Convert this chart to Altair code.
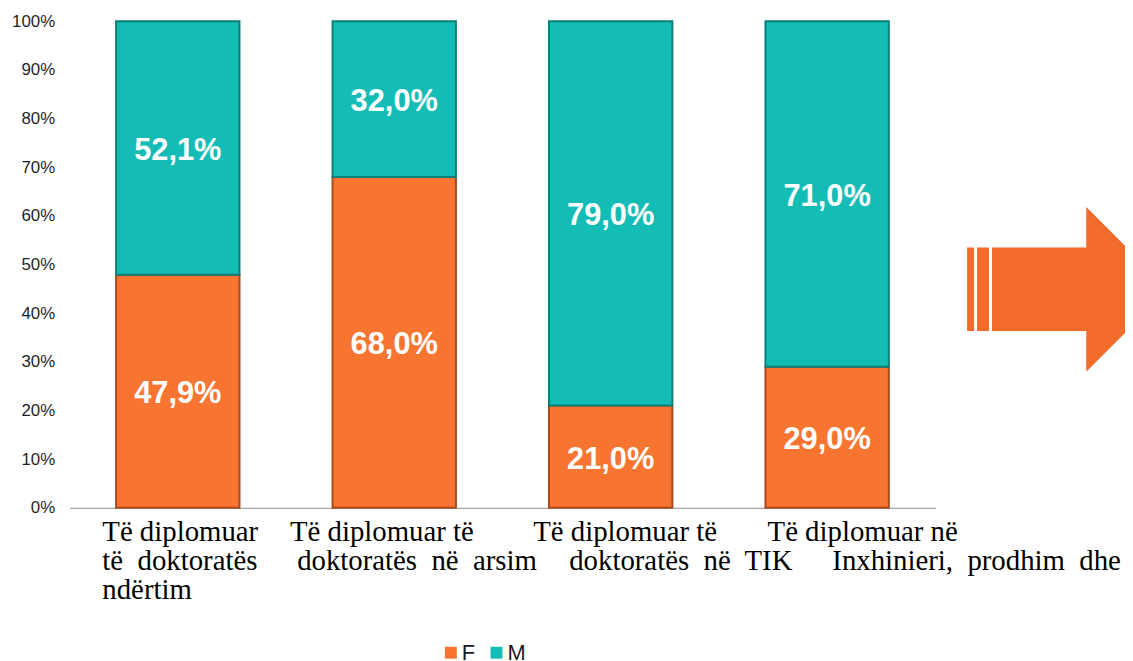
import altair as alt
import pandas as pd

# ---------------- data ----------------
categories = [
    "Të diplomuar të doktoratës ndërtim",
    "Të diplomuar të doktoratës në arsim",
    "Të diplomuar të doktoratës në TIK",
    "Të diplomuar në Inxhinieri, prodhim dhe",
]
label_lines = [
    ["Të diplomuar", "të\u00a0 doktoratës", "ndërtim"],
    ["Të diplomuar të", "\u200b\u00a0doktoratës\u00a0 në\u00a0 arsim"],
    ["Të diplomuar të", "\u200b\u00a0\u00a0\u00a0\u00a0\u00a0doktoratës\u00a0 në\u00a0 TIK"],
    ["Të diplomuar në",
     "\u200b\u00a0\u00a0\u00a0\u00a0\u00a0\u00a0\u00a0\u00a0\u00a0Inxhinieri,\u00a0 prodhim\u00a0 dhe"],
]
series = ["F", "M"]
female = [47.9, 68.0, 21.0, 29.0]
male = [52.1, 32.0, 79.0, 71.0]
y_ticks = [0, 10, 20, 30, 40, 50, 60, 70, 80, 90, 100]

rows = []
for c, f, m in zip(categories, female, male):
    rows.append({"category": c, "sex": "F", "value": f, "rank": 0})
    rows.append({"category": c, "sex": "M", "value": m, "rank": 1})
df = pd.DataFrame(rows)

# ---------------- style ----------------
fill_colors = ["#F77530", "#13BDB5"]
edge_colors = ["#A9491C", "#0B7F7A"]
label_shift = [-76, -105, -78, -60]

label_expr = ""
for c, lines in zip(categories, label_lines):
    arr = "[" + ", ".join("'" + l + "'" for l in lines) + "]"
    label_expr += f"datum.value === '{c}' ? {arr} : "
label_expr += "datum.value"

label_offset = {
    "condition": [
        {"test": f"datum.value === '{c}'", "value": o}
        for c, o in zip(categories[1:], label_shift[1:])
    ],
    "value": label_shift[0],
}

x_enc = alt.X(
    "category:N",
    sort=categories,
    scale=alt.Scale(paddingInner=0.43, paddingOuter=0.215),
    axis=alt.Axis(
        title=None,
        labelExpr=label_expr,
        labelAngle=0,
        labelAlign="left",
        labelBaseline="top",
        labelFont="Liberation Serif",
        labelFontSize=29,
        labelLineHeight=29,
        labelColor="#000000",
        labelPadding=10,
        labelLimit=600,
        labelOverlap=False,
        labelBound=False,
        labelFlush=False,
        labelOffset=label_offset,
        ticks=False,
        tickSize=0,
        domain=True,
        domainColor="#8c8c8c",
        domainWidth=1,
        grid=False,
    ),
)

y_axis = alt.Axis(
    title=None,
    values=y_ticks,
    labelExpr="datum.value + '%'",
    labelFont="Liberation Sans",
    labelFontSize=17,
    labelColor="#1f1f1f",
    labelPadding=15,
    ticks=False,
    tickSize=0,
    domain=False,
    grid=False,
)
y_scale = alt.Scale(domain=[0, 100], nice=False, zero=True)

base = (
    alt.Chart(df)
    .transform_stack(
        stack="value",
        groupby=["category"],
        as_=["v0", "v1"],
        sort=[alt.SortField("rank", order="ascending")],
    )
    .transform_calculate(
        mid="(datum.v0 + datum.v1) / 2",
        txt="replace(format(datum.value, '.1f'), '.', ',') + '%'",
    )
    .encode(x=x_enc)
)

bars = base.mark_bar(strokeWidth=2).encode(
    y=alt.Y("v0:Q", scale=y_scale, axis=y_axis),
    y2="v1:Q",
    color=alt.Color(
        "sex:N",
        scale=alt.Scale(domain=series, range=fill_colors),
        legend=alt.Legend(
            title=None,
            orient="none",
            direction="horizontal",
            legendX=373,
            legendY=625,
            symbolType="square",
            symbolSize=144,
            symbolStrokeWidth=0,
            labelFont="Liberation Sans",
            labelFontSize=22,
            labelColor="#1a1a1a",
            labelOffset=0,
            columnPadding=10,
            padding=0,
        ),
    ),
    stroke=alt.Stroke(
        "sex:N", scale=alt.Scale(domain=series, range=edge_colors), legend=None
    ),
)

texts = base.mark_text(
    font="Liberation Sans",
    fontSize=31,
    fontWeight="bold",
    color="#ffffff",
    align="center",
    baseline="middle",
    dy=3,
).encode(
    y=alt.Y("mid:Q", scale=y_scale, axis=y_axis),
    text="txt:N",
)

arrow_path = (
    "M-76,-42H-69V42H-76Z "
    "M-66,-42H-54V42H-66Z "
    "M-51,-42H44V-83L127,0L44,83V42H-51Z"
)
arrow = (
    alt.Chart(pd.DataFrame({"k": [0]}))
    .mark_point(shape=arrow_path, size=4, filled=True, color="#F26B2A",
                opacity=1, strokeWidth=0)
    .encode(x=alt.value(980), y=alt.value(270))
)

chart = (
    alt.layer(bars, texts, arrow)
    .properties(
        width=872,
        height=490,
        autosize=alt.AutoSizeParams(type="none"),
        padding={"left": 62, "top": 11, "right": 191, "bottom": 151},
    )
    .configure_view(stroke=None)
)

chart.save("out.html", embed_options={"renderer": "svg", "actions": False})
